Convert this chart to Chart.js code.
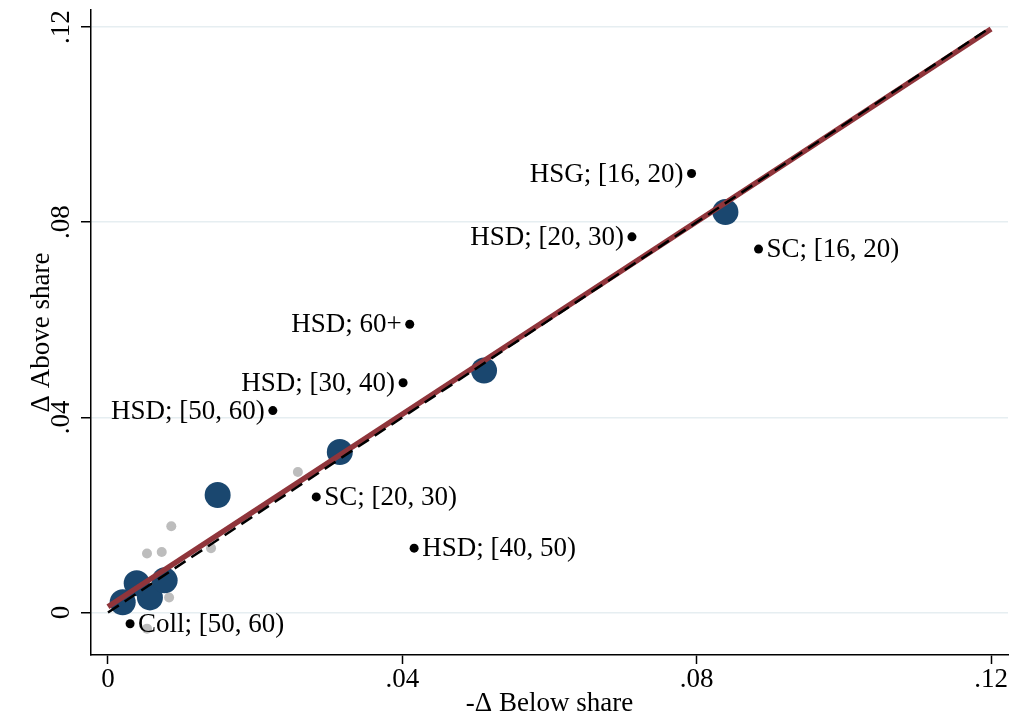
<!DOCTYPE html>
<html>
<head>
<meta charset="utf-8">
<script src="https://cdn.jsdelivr.net/npm/chart.js@4/dist/chart.umd.min.js"></script>
<style>
  body { margin: 0; background: #fff; }
  #wrap { width: 1013px; height: 717px; position: relative; }
</style>
</head>
<body>
<div id="wrap"><canvas id="chart"></canvas></div>
<script>
// labelled groups (small black dots)
const labeledNames = ["HSG; [16, 20)", "HSD; [20, 30)", "SC; [16, 20)", "HSD; 60+", "HSD; [30, 40)",
    "HSD; [50, 60)", "SC; [20, 30)", "HSD; [40, 50)", "Coll; [50, 60)"];
const labeledX = [0.0793, 0.0712, 0.0884, 0.0410, 0.0401, 0.0224, 0.0283, 0.0416, 0.0030];
const labeledY = [0.0900, 0.0770, 0.0745, 0.0591, 0.0471, 0.0414, 0.0237, 0.0132, -0.0023];
const rightLabeled = ["SC; [16, 20)", "SC; [20, 30)", "HSD; [40, 50)", "Coll; [50, 60)"];

// large blue markers
const blueX = [0.0020, 0.0039, 0.0057, 0.0077, 0.0149, 0.0315, 0.0511, 0.0839];
const blueY = [0.0021, 0.0060, 0.0031, 0.0066, 0.0241, 0.0329, 0.0496, 0.0821];

// small grey markers
const grayX = [0.0258, 0.0086, 0.0053, 0.0073, 0.0140, 0.0083, 0.0053];
const grayY = [0.0288, 0.0177, 0.0121, 0.0124, 0.0132, 0.0031, -0.0033];

// fitted line and 45 degree line
const fitX = [0, 0.12];
const fitY = [0.0012, 0.1196];
const diagX = [0, 0.12];
const diagY = [0, 0.12];

const tickValues = [0, 0.04, 0.08, 0.12];
const tickLabels = ["0", ".04", ".08", ".12"];

const FONT = "'Liberation Serif', 'Times New Roman', serif";

function pts(xs, ys) {
    return xs.map((x, i) => ({ x: x, y: ys[i] }));
}

function setTicks(scale) {
    scale.ticks = tickValues.map(v => ({ value: v }));
}

function tickText(value) {
    const i = tickValues.findIndex(v => Math.abs(v - value) < 1e-9);
    return i >= 0 ? tickLabels[i] : "";
}

function noPadding(scale) {
    scale.paddingLeft = 0;
    scale.paddingRight = 0;
    scale.paddingTop = 0;
    scale.paddingBottom = 0;
}

// draw the group names next to the black dots
const pointLabels = {
    id: "pointLabels",
    afterDatasetsDraw(chart) {
        const ctx = chart.ctx;
        const xs = chart.scales.x, ys = chart.scales.y;
        ctx.save();
        ctx.font = "27px " + FONT;
        ctx.fillStyle = "#000";
        ctx.textBaseline = "middle";
        labeledNames.forEach((name, i) => {
            const px = xs.getPixelForValue(labeledX[i]);
            const py = ys.getPixelForValue(labeledY[i]);
            if (rightLabeled.includes(name)) {
                ctx.textAlign = "left";
                ctx.fillText(name, px + 8, py + 1);
            } else {
                ctx.textAlign = "right";
                ctx.fillText(name, px - 8, py + 1);
            }
        });
        ctx.restore();
    }
};

new Chart(document.getElementById("chart"), {
    type: "scatter",
    data: {
        datasets: [
            {
                type: "line",
                data: pts(diagX, diagY),
                borderColor: "#000",
                borderWidth: 2.5,
                borderDash: [13, 7],
                pointRadius: 0,
                fill: false,
                order: 0
            },
            {
                type: "line",
                data: pts(fitX, fitY),
                borderColor: "#90353b",
                borderWidth: 5.5,
                pointRadius: 0,
                fill: false,
                order: 1
            },
            {
                data: pts(labeledX, labeledY),
                backgroundColor: "#000",
                borderWidth: 0,
                pointRadius: 4.5,
                order: 2
            },
            {
                data: pts(blueX, blueY),
                backgroundColor: "#1a476f",
                borderWidth: 0,
                pointRadius: 13,
                order: 3
            },
            {
                data: pts(grayX, grayY),
                backgroundColor: "#bdbdbd",
                borderWidth: 0,
                pointRadius: 5,
                order: 4
            }
        ]
    },
    options: {
        responsive: true,
        maintainAspectRatio: false,
        animation: false,
        layout: { autoPadding: false, padding: { top: 10, right: 5, left: 0, bottom: 0 } },
        plugins: {
            legend: { display: false },
            tooltip: { enabled: false }
        },
        scales: {
            x: {
                type: "linear",
                min: -0.00231,
                max: 0.1223,
                afterBuildTicks: setTicks,
                afterFit(scale) {
                    scale.height = 62;
                    noPadding(scale);
                },
                border: { display: true, color: "#000", width: 1.5 },
                grid: { drawOnChartArea: false, drawTicks: true, tickLength: 9, tickColor: "#000", tickWidth: 1.5 },
                ticks: {
                    color: "#000",
                    font: { family: FONT, size: 27 },
                    padding: 0,
                    maxRotation: 0,
                    callback: tickText
                },
                title: {
                    display: true,
                    text: "-Δ Below share",
                    color: "#000",
                    font: { family: FONT, size: 27, lineHeight: 1 },
                    padding: 0
                }
            },
            y: {
                type: "linear",
                min: -0.0087,
                max: 0.1235,
                afterBuildTicks: setTicks,
                afterFit(scale) {
                    scale.width = 91;
                    noPadding(scale);
                },
                border: { display: true, color: "#000", width: 1.5 },
                grid: { color: "#e6eef1", lineWidth: 1.5, drawTicks: true, tickLength: 10, tickColor: "#000", tickWidth: 1.5 },
                ticks: {
                    color: "#000",
                    font: { family: FONT, size: 27 },
                    minRotation: 90,
                    maxRotation: 90,
                    crossAlign: "center",
                    padding: 2,
                    callback: tickText
                },
                title: {
                    display: true,
                    text: "Δ Above share",
                    color: "#000",
                    font: { family: FONT, size: 27, lineHeight: 1 },
                    padding: { top: 28, bottom: 0 }
                }
            }
        }
    },
    plugins: [pointLabels]
});
</script>
</body>
</html>
